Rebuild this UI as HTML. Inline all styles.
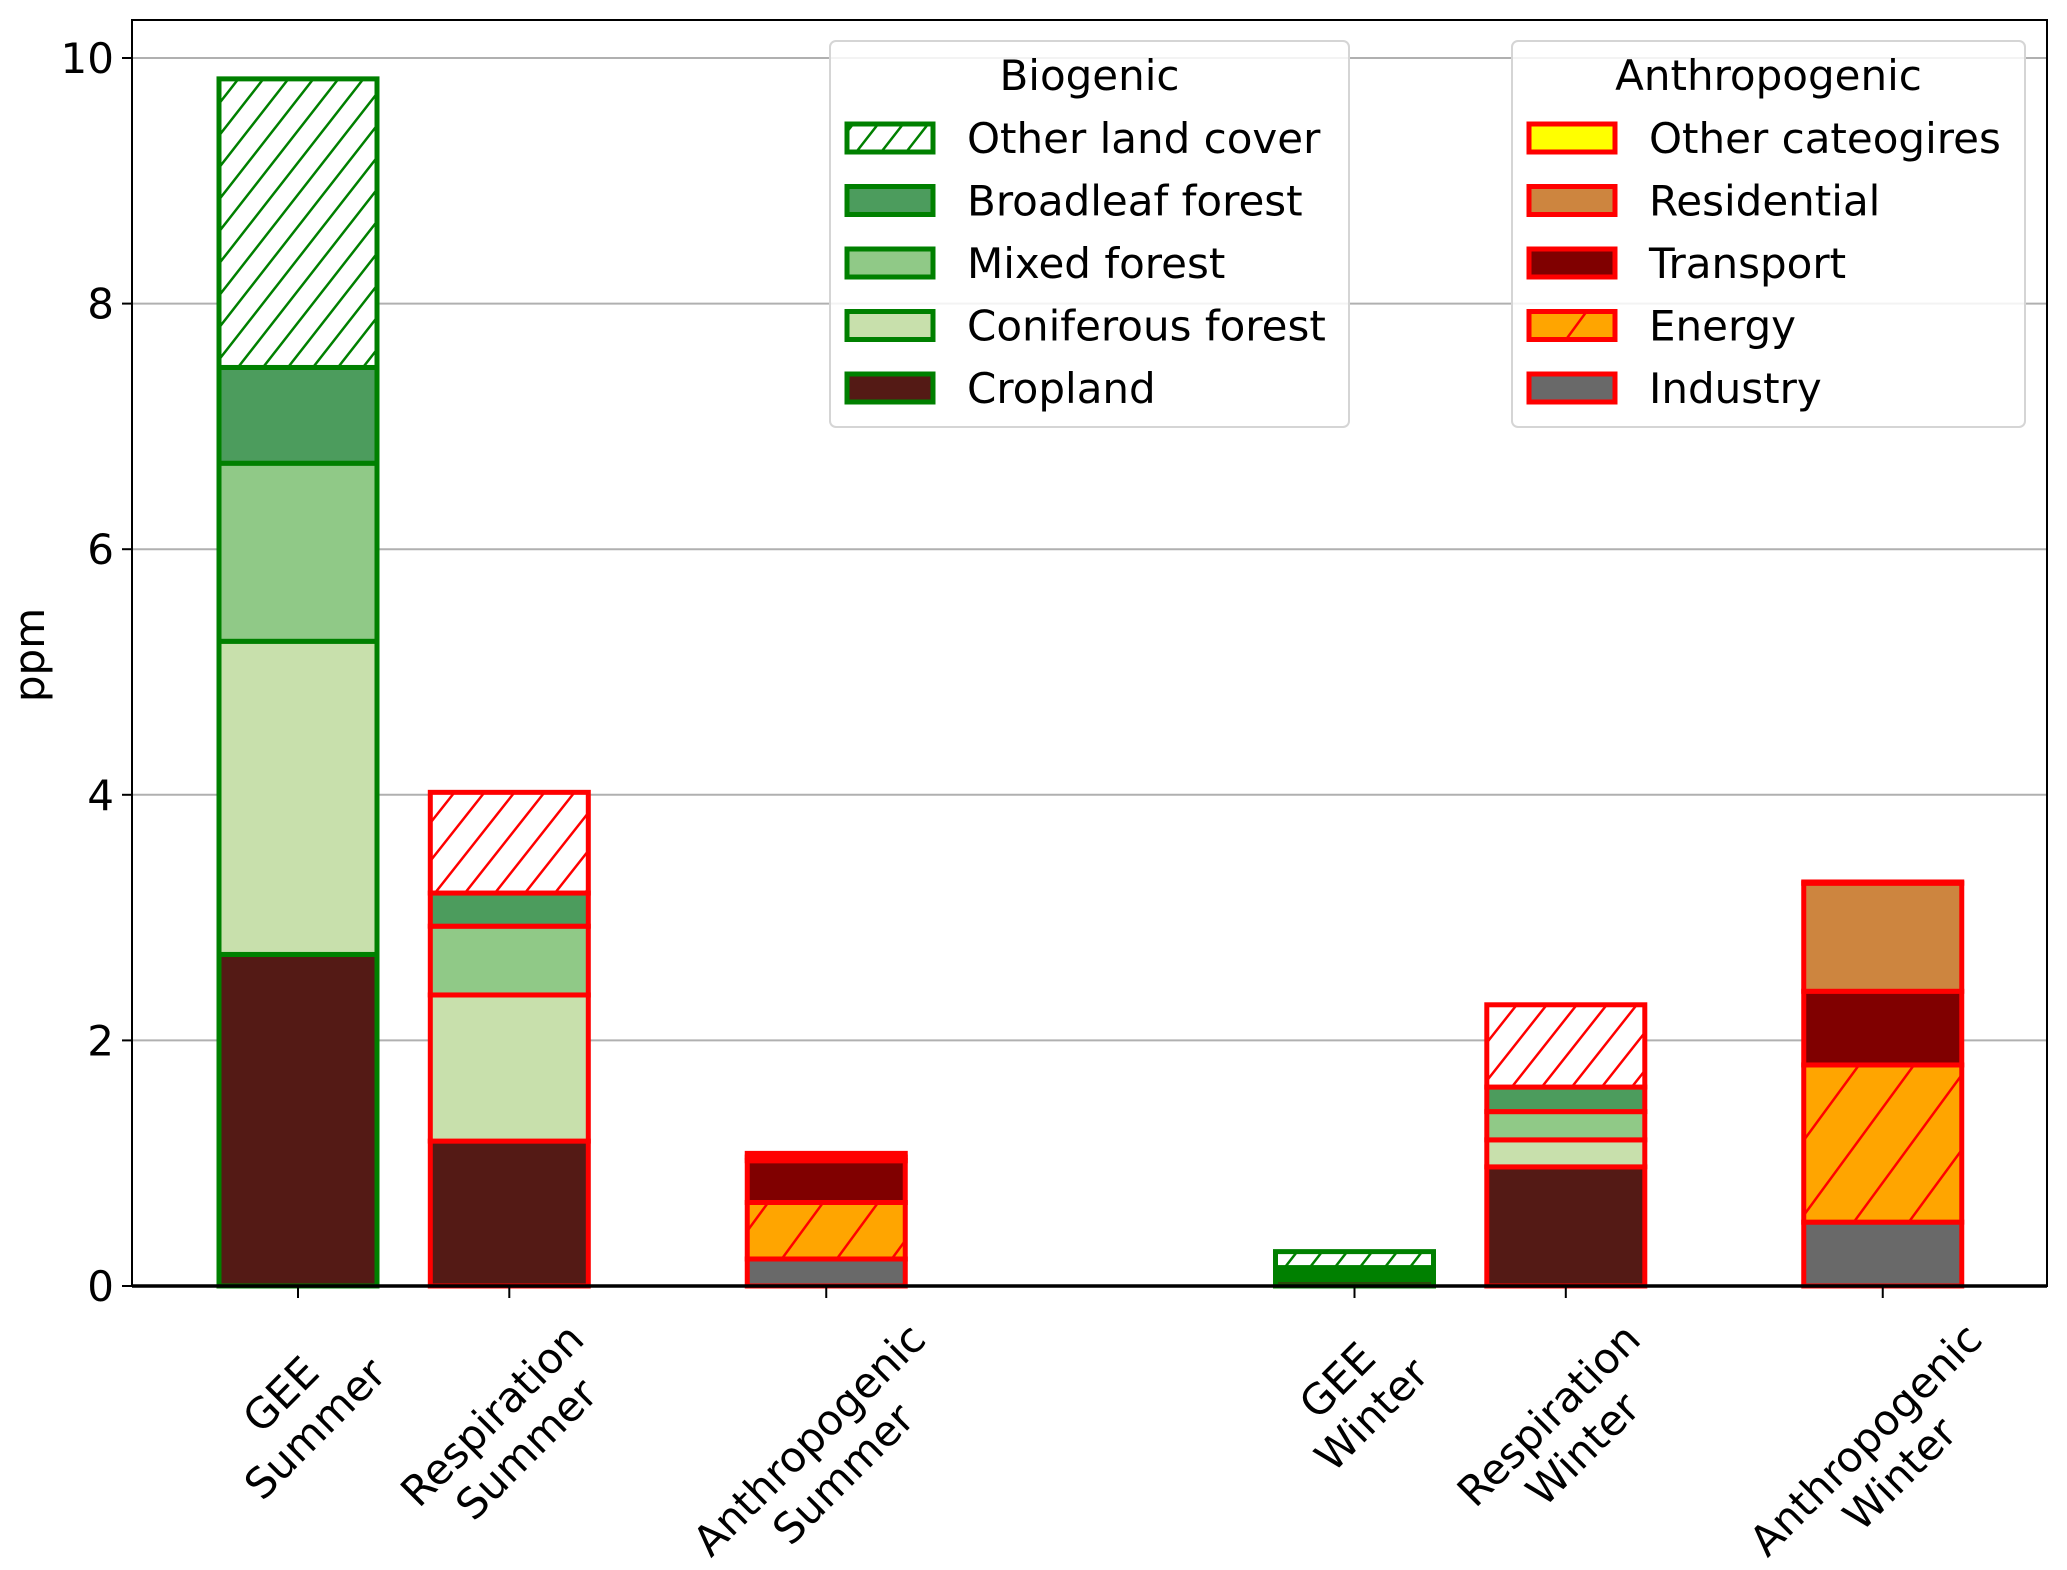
<!DOCTYPE html>
<html><head><meta charset="utf-8"><style>
html,body{margin:0;padding:0;background:#fff;}
svg{display:block;font-family:"DejaVu Sans","Liberation Sans",sans-serif;}
</style></head><body>
<svg id="chart" width="2067" height="1570" viewBox="0 0 2067 1570" xmlns="http://www.w3.org/2000/svg">
<defs>
<pattern id="hatchGreen" patternUnits="userSpaceOnUse" width="25" height="32"><rect width="25" height="32" fill="#fff"/><path d="M-5,38.4 L30,-6.4 M-5,6.4 L5,-6.4 M20,38.4 L30,25.6" stroke="green" stroke-width="2.5"/></pattern>
<pattern id="hatchRed" patternUnits="userSpaceOnUse" width="30" height="38"><rect width="30" height="38" fill="#fff"/><path d="M-5,44.3 L35,-6.3 M-5,6.3 L5,-6.3 M25,44.3 L35,31.7" stroke="red" stroke-width="2.5"/></pattern>
<pattern id="hatchEnergy" patternUnits="userSpaceOnUse" width="55" height="75"><rect width="55" height="75" fill="#ffa500"/><path d="M-5,81.8 L60,-6.8 M-5,6.8 L5,-6.8 M50,81.8 L60,68.2" stroke="red" stroke-width="2.5"/></pattern>
</defs>
<g id="grid"></g>
<g id="bars"></g>
<g id="axes"></g>
<g id="legends"></g>
</svg>
<script>
const categories = ["GEE\nSummer","Respiration\nSummer","Anthropogenic\nSummer","GEE\nWinter","Respiration\nWinter","Anthropogenic\nWinter"];
const positions = [0, 1, 2.5, 5, 6, 7.5];
const edgeKinds = ["bio","bioR","anthro","bio","bioR","anthro"];
// biogenic segment values (bottom -> top): cropland, coniferous, mixed, broadleaf, other
const cropland   = [2.70, 1.18, 0, 0.05, 0.97, 0];
const coniferous = [2.55, 1.19, 0, 0.01, 0.22, 0];
const mixed      = [1.45, 0.56, 0, 0.02, 0.23, 0];
const broadleaf  = [0.78, 0.27, 0, 0.07, 0.20, 0];
const otherLand  = [2.35, 0.82, 0, 0.13, 0.67, 0];
// anthropogenic segment values (bottom -> top)
const industry    = [0, 0, 0.22, 0, 0, 0.52];
const energy      = [0, 0, 0.46, 0, 0, 1.28];
const transport   = [0, 0, 0.34, 0, 0, 0.60];
const residential = [0, 0, 0.03, 0, 0, 0.88];
const otherCat    = [0, 0, 0.03, 0, 0, 0.01];
const yTicks = [0, 2, 4, 6, 8, 10];

const NS = "http://www.w3.org/2000/svg";
const L = 132, R = 2047, T = 20, B = 1286;
const y0px = 1286, y10px = 58;
const FS = 42;
const yScale = v => y0px - v * (y0px - y10px) / 10;
const xScale = p => 298 + p * 211.3;
const barW = 158;
function mk(tag, attrs, parent){const e=document.createElementNS(NS,tag);for(const k in attrs)e.setAttribute(k,attrs[k]);parent.appendChild(e);return e;}

const grid = document.getElementById('grid');
const axes = document.getElementById('axes');
yTicks.forEach(t=>{
  const y = yScale(t);
  const g = mk('line',{x1:L,x2:R,y1:y,y2:y,stroke:'#b0b0b0','stroke-width':2},grid);
  
  
  mk('line',{x1:L-10,x2:L,y1:y,y2:y,stroke:'#000','stroke-width':2},axes);
  const tx = mk('text',{x:L-18,y:y+15,'text-anchor':'end','font-size':FS},axes);
  tx.textContent = t;
  
  
});

const bars = document.getElementById('bars');
const bioSeries = [["cropland",cropland,"#541a15"],["coniferous",coniferous,"#c8e0ac"],["mixed",mixed,"#90c987"],["broadleaf",broadleaf,"#4c9c5d"],["other-land",otherLand,null]];
const anSeries = [["industry",industry,"#696969"],["energy",energy,"url(#hatchEnergy)"],["transport",transport,"#800000"],["residential",residential,"#cd853f"],["other-cat",otherCat,"#ffff00"]];
categories.forEach((c,i)=>{
  const cx = xScale(positions[i]);
  let cum = 0;
  const kind = edgeKinds[i];
  const series = kind==="anthro"?anSeries:bioSeries;
  const edge = kind==="bio"?"green":"red";
  series.forEach(([name,arr,fill])=>{
    const v = arr[i]; if(v<=0) return;
    const yT = yScale(cum+v), yB = yScale(cum);
    let f = fill;
    if(f===null) f = kind==="bio"?"url(#hatchGreen)":"url(#hatchRed)";
    if(kind==="bio" && i===3 && name!=="other-land" && name!=="cropland") f = "green";
    const r = mk('rect',{x:cx-barW/2,y:yT,width:barW,height:yB-yT,fill:f,stroke:edge,'stroke-width':5},bars);
    
    
    cum += v;
  });
  mk('line',{x1:cx,x2:cx,y1:B,y2:B+12,stroke:'#000','stroke-width':2},axes);
  const g = mk('g',{},axes);
  
  
  const t = mk('text',{'text-anchor':'middle','font-size':FS},g);
  c.split("\n").forEach((ln,k)=>{const s=mk('tspan',{x:0,dy:k===0?'0':'1.15em'},t);s.textContent=ln;});
  const bb = t.getBBox();
  const ext = (bb.width+bb.height)/Math.SQRT2;
  const cy = 1314 + ext/2;
  t.setAttribute('transform',`translate(${cx},${cy}) rotate(-45) translate(0,${-(bb.y+bb.height/2)})`);
});

// spines
mk('rect',{x:L,y:T,width:R-L,height:B-T,fill:'none',stroke:'#000','stroke-width':2},axes);
mk('line',{x1:L,x2:R,y1:B,y2:B,stroke:'#000','stroke-width':3.5},axes);
const yl = mk('text',{x:0,y:0,'text-anchor':'middle','font-size':FS,transform:'translate(44,655) rotate(-90)'},axes);
yl.textContent='ppm';



// legends
const legends = document.getElementById('legends');
function legend(x,w,title,entries,edge,key){
  const g = mk('g',{},legends);
  
  
  mk('rect',{x:x,y:41,width:w,height:386,rx:6,fill:'rgba(255,255,255,0.85)',stroke:'#d5d5d5','stroke-width':2},g);
  const tt = mk('text',{x:x+w/2,y:90,'text-anchor':'middle','font-size':FS},g);
  tt.textContent=title;
  entries.forEach(([lab,fill],k)=>{
    const yc = 138 + k*62.5;
    const e = mk('g',{},g);
    
    
    mk('rect',{x:x+17,y:yc-14,width:86,height:28,fill:fill,stroke:edge,'stroke-width':5},e);
    const t = mk('text',{x:x+137,y:yc+15,'font-size':FS},e);
    t.textContent=lab;
  });
}
legend(830,519,"Biogenic",[["Other land cover","url(#hatchGreen)"],["Broadleaf forest","#4c9c5d"],["Mixed forest","#90c987"],["Coniferous forest","#c8e0ac"],["Cropland","#541a15"]],"green","biogenic");
legend(1512,513,"Anthropogenic",[["Other cateogires","#ffff00"],["Residential","#cd853f"],["Transport","#800000"],["Energy","url(#hatchEnergy)"],["Industry","#696969"]],"red","anthropogenic");
</script>
</body></html>
